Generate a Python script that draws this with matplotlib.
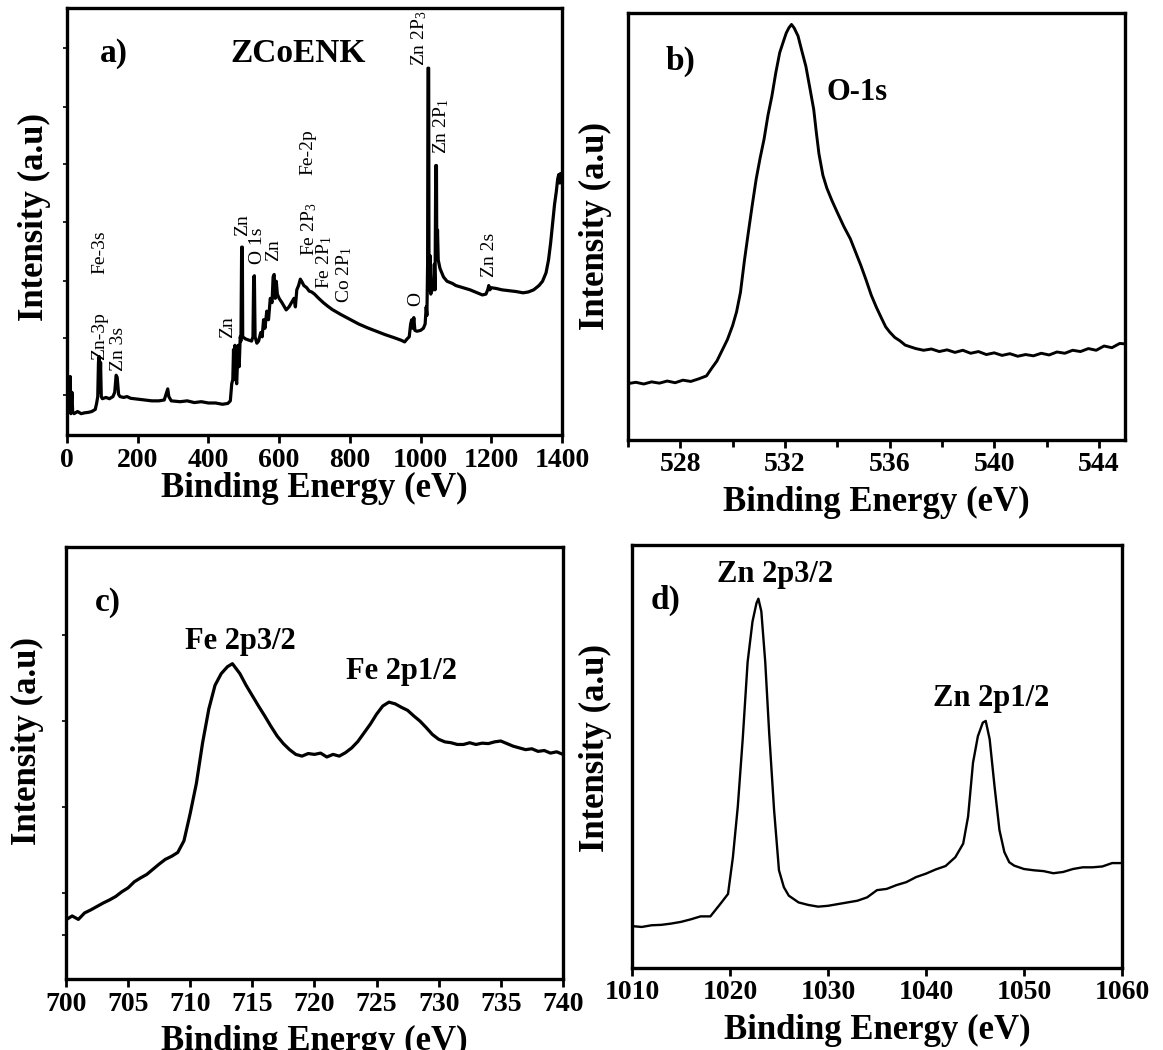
import matplotlib
matplotlib.use("Agg")
import matplotlib.pyplot as plt
from matplotlib.ticker import MultipleLocator, FixedLocator, NullFormatter

plt.rcParams['font.family'] = ['Liberation Serif', 'DejaVu Serif']
plt.rcParams['mathtext.fontset'] = 'custom'
plt.rcParams['mathtext.rm'] = 'Liberation Serif'
plt.rcParams['mathtext.it'] = 'Liberation Serif:italic'
plt.rcParams['mathtext.bf'] = 'Liberation Serif:bold'

# ---------------- data ----------------
# (a) survey spectrum
a_energy = [0, 3, 5, 7, 9, 11, 14, 16, 20, 30, 40, 50, 60, 70, 80, 84, 87, 89, 91, 93, 95, 97,
            100, 110, 120, 130, 135, 139, 142, 146, 150, 160, 170, 180, 200, 220, 240, 260, 275,
            282, 285, 288, 295, 320, 340, 360, 380, 400, 420, 440, 455, 462, 466, 469, 471, 473,
            475, 477, 480, 484, 487, 490, 492, 494, 496, 497, 505, 515, 522, 526, 528, 530, 532,
            537, 542, 548, 552, 556, 560, 565, 570, 575, 580, 583, 586, 589, 592, 595, 600, 608,
            615, 620, 628, 635, 642, 646, 650, 655, 660, 665, 670, 678, 685, 692, 700, 712, 725,
            737, 750, 775, 800, 825, 850, 875, 900, 925, 945, 955, 962, 968, 972, 975, 978, 981,
            984, 990, 1000, 1008, 1013, 1016, 1018, 1020, 1021, 1023, 1024, 1027, 1029, 1032,
            1036, 1039, 1041, 1043, 1045, 1046, 1048, 1050, 1055, 1060, 1065, 1075, 1090, 1100,
            1120, 1140, 1160, 1175, 1185, 1190, 1193, 1196, 1200, 1215, 1230, 1250, 1270, 1290,
            1305, 1320, 1335, 1345, 1355, 1362, 1368, 1374, 1379, 1384, 1388, 1391, 1394, 1397]
a_intensity = [0.05, 0.06, 0.13, 0.06, 0.137, 0.05, 0.10, 0.055, 0.05, 0.055, 0.05, 0.052, 0.053,
               0.055, 0.06, 0.075, 0.09, 0.17, 0.184, 0.10, 0.17, 0.09, 0.085, 0.088, 0.085, 0.09,
               0.10, 0.14, 0.135, 0.095, 0.09, 0.088, 0.09, 0.086, 0.084, 0.082, 0.08, 0.08, 0.082,
               0.10, 0.108, 0.09, 0.08, 0.078, 0.08, 0.076, 0.078, 0.075, 0.075, 0.072, 0.074, 0.08,
               0.12, 0.13, 0.20, 0.13, 0.21, 0.14, 0.12, 0.21, 0.16, 0.23, 0.22, 0.44, 0.44, 0.23,
               0.225, 0.222, 0.22, 0.23, 0.37, 0.373, 0.23, 0.215, 0.22, 0.24, 0.23, 0.27, 0.25,
               0.29, 0.27, 0.32, 0.31, 0.37, 0.376, 0.32, 0.36, 0.33, 0.32, 0.31, 0.30, 0.293, 0.30,
               0.31, 0.32, 0.30, 0.34, 0.35, 0.365, 0.358, 0.35, 0.345, 0.337, 0.335, 0.33, 0.32,
               0.31, 0.302, 0.294, 0.282, 0.271, 0.26, 0.251, 0.243, 0.235, 0.228, 0.222, 0.218,
               0.225, 0.23, 0.26, 0.27, 0.25, 0.275, 0.245, 0.243, 0.245, 0.25, 0.26, 0.30, 0.28,
               0.40, 0.859, 0.859, 0.34, 0.42, 0.33, 0.35, 0.34, 0.40, 0.34, 0.631, 0.631, 0.42,
               0.48, 0.41, 0.39, 0.38, 0.37, 0.36, 0.355, 0.35, 0.345, 0.34, 0.333, 0.328, 0.33,
               0.34, 0.35, 0.34, 0.345, 0.343, 0.34, 0.338, 0.336, 0.333, 0.335, 0.34, 0.35, 0.36,
               0.38, 0.41, 0.45, 0.50, 0.54, 0.57, 0.60, 0.61, 0.59, 0.612]

# (b) O 1s
b_energy = [526.0, 526.3, 526.6, 526.9, 527.2, 527.5, 527.8, 528.1, 528.4, 528.7, 529.0, 529.2,
            529.4, 529.6, 529.8, 530.0, 530.15, 530.3, 530.45, 530.6, 530.75, 530.9, 531.05,
            531.2, 531.35, 531.5, 531.65, 531.8, 531.95, 532.05, 532.15, 532.25, 532.35, 532.5,
            532.65, 532.8, 532.95, 533.1, 533.2, 533.3, 533.45, 533.6, 533.8, 534.0, 534.25,
            534.5, 534.7, 534.9, 535.1, 535.3, 535.5, 535.7, 535.85, 536.0, 536.2, 536.4, 536.6,
            536.8, 537.0, 537.3, 537.6, 537.9, 538.2, 538.5, 538.8, 539.1, 539.4, 539.7, 540.0,
            540.3, 540.6, 540.9, 541.2, 541.5, 541.8, 542.1, 542.4, 542.7, 543.0, 543.3, 543.6,
            543.9, 544.2, 544.5, 544.8, 545.0]
b_intensity = [0.132, 0.135, 0.131, 0.136, 0.133, 0.138, 0.134, 0.14, 0.137, 0.143, 0.15, 0.168,
               0.185, 0.21, 0.235, 0.268, 0.30, 0.346, 0.42, 0.486, 0.55, 0.611, 0.66, 0.704, 0.76,
               0.805, 0.86, 0.907, 0.935, 0.953, 0.965, 0.973, 0.965, 0.946, 0.91, 0.875, 0.825,
               0.774, 0.72, 0.67, 0.62, 0.59, 0.56, 0.533, 0.50, 0.471, 0.44, 0.409, 0.375, 0.339,
               0.31, 0.284, 0.265, 0.253, 0.24, 0.232, 0.222, 0.218, 0.214, 0.21, 0.213, 0.207,
               0.211, 0.205, 0.21, 0.203, 0.207, 0.20, 0.204, 0.198, 0.202, 0.196, 0.20, 0.197,
               0.203, 0.199, 0.206, 0.203, 0.21, 0.207, 0.214, 0.21, 0.22, 0.216, 0.226, 0.225]

# (c) Fe 2p
c_energy = [700.0, 700.5, 701.0, 701.5, 702.0, 702.5, 703.0, 703.5, 704.0, 704.5, 705.0, 705.5,
            706.0, 706.5, 707.0, 707.5, 708.0, 708.5, 709.0, 709.5, 710.0, 710.5, 711.0, 711.5,
            712.0, 712.5, 713.0, 713.4, 714.0, 714.5, 715.0, 715.5, 716.0, 716.5, 717.0, 717.5,
            718.0, 718.5, 719.0, 719.5, 720.0, 720.5, 721.0, 721.5, 722.0, 722.5, 723.0, 723.5,
            724.0, 724.5, 725.0, 725.5, 726.0, 726.5, 727.0, 727.5, 728.0, 728.5, 729.0, 729.5,
            730.0, 730.5, 731.0, 731.5, 732.0, 732.5, 733.0, 733.5, 734.0, 734.5, 735.0, 735.5,
            736.0, 736.5, 737.0, 737.5, 738.0, 738.5, 739.0, 739.5, 740.0]
c_intensity = [0.137, 0.146, 0.138, 0.153, 0.16, 0.168, 0.176, 0.183, 0.191, 0.202, 0.211, 0.225,
               0.234, 0.242, 0.254, 0.266, 0.277, 0.284, 0.293, 0.32, 0.383, 0.453, 0.547, 0.625,
               0.68, 0.707, 0.723, 0.73, 0.707, 0.68, 0.656, 0.632, 0.609, 0.585, 0.5625, 0.545,
               0.531, 0.52, 0.516, 0.522, 0.52, 0.523, 0.514, 0.52, 0.516, 0.524, 0.535, 0.55, 0.57,
               0.59, 0.613, 0.632, 0.641, 0.637, 0.629, 0.622, 0.609, 0.597, 0.582, 0.566, 0.555,
               0.549, 0.547, 0.543, 0.543, 0.547, 0.543, 0.546, 0.545, 0.549, 0.551, 0.545, 0.539,
               0.535, 0.531, 0.533, 0.527, 0.529, 0.523, 0.526, 0.52]

# (d) Zn 2p
d_energy = [1010, 1011, 1012, 1013, 1014, 1015, 1016, 1017, 1018, 1019, 1019.8, 1020.3, 1020.8,
            1021.3, 1021.8, 1022.3, 1022.7, 1022.9, 1023.2, 1023.6, 1024, 1024.5, 1025, 1025.5,
            1026, 1027, 1028, 1029, 1030, 1031, 1032, 1033, 1034, 1035, 1036, 1037, 1038, 1039,
            1040, 1041, 1042, 1043, 1043.8, 1044.3, 1044.8, 1045.3, 1045.8, 1046.1, 1046.5, 1047,
            1047.5, 1048, 1048.5, 1049, 1050, 1051, 1052, 1053, 1054, 1055, 1056, 1057, 1058,
            1059, 1060]
d_intensity = [0.099, 0.097, 0.101, 0.102, 0.105, 0.109, 0.115, 0.122, 0.122, 0.151, 0.175, 0.262,
               0.382, 0.541, 0.723, 0.819, 0.862, 0.873, 0.843, 0.723, 0.556, 0.374, 0.231, 0.191,
               0.171, 0.155, 0.149, 0.145, 0.147, 0.151, 0.155, 0.159, 0.167, 0.184, 0.187, 0.196,
               0.203, 0.215, 0.223, 0.233, 0.241, 0.262, 0.294, 0.358, 0.485, 0.548, 0.58, 0.584,
               0.541, 0.429, 0.326, 0.274, 0.25, 0.242, 0.234, 0.231, 0.229, 0.224, 0.227, 0.234,
               0.238, 0.238, 0.24, 0.248, 0.248]

a_ticks = [0, 200, 400, 600, 800, 1000, 1200, 1400]
b_ticks = [528, 532, 536, 540, 544]
c_ticks = [700, 705, 710, 715, 720, 725, 730, 735, 740]
d_ticks = [1010, 1020, 1030, 1040, 1050, 1060]

# annotations of survey peaks: (text, x, y-bottom)
a_labels = [("Fe-3s", 94, 0.376), ("Zn-3p", 91, 0.176), ("Zn 3s", 146, 0.149),
            ("Zn", 455, 0.227), ("Zn", 497, 0.467), ("O 1s", 539, 0.40), ("Zn", 585, 0.408),
            ("Fe 2P$_3$", 684, 0.42), ("Fe 2P$_1$", 726, 0.341), ("Co 2P$_1$", 783, 0.31),
            ("Fe-2p", 681, 0.608), ("O", 986, 0.302), ("Zn 2P$_3$", 997, 0.863),
            ("Zn 2P$_1$", 1059, 0.659), ("Zn 2s", 1195, 0.369)]

# ---------------- figure ----------------
fig = plt.figure(figsize=(11.63, 10.5), dpi=100)
ax_a = fig.add_axes([0.0576, 0.5857, 0.4256, 0.4067])
ax_b = fig.add_axes([0.540, 0.5810, 0.4273, 0.4067])
ax_c = fig.add_axes([0.0567, 0.0676, 0.4273, 0.4114])
ax_d = fig.add_axes([0.5434, 0.0781, 0.4213, 0.4029])

LBL = dict(fontsize=25, fontweight='bold')
TICKFS = 20


def style(ax, xlim, xticks, ylabel_xy, xlabel_y):
    ax.set_xlim(*xlim)
    ax.set_ylim(0, 1)
    ax.set_xticks(xticks)
    for s in ax.spines.values():
        s.set_linewidth(2.4)
    ax.tick_params(axis='x', direction='out', length=6, width=2, pad=3, labelsize=TICKFS)
    for t in ax.get_xticklabels():
        t.set_fontweight('bold')
    ax.set_ylabel("Intensity (a.u)", **LBL)
    ax.set_xlabel("Binding Energy (eV)", **LBL)
    ax.yaxis.label.set_va('center')
    ax.yaxis.set_label_coords(*ylabel_xy)
    ax.xaxis.label.set_va('center')
    ax.xaxis.set_label_coords(0.5, xlabel_y)


# (a)
ax_a.plot(a_energy, a_intensity, color='black', lw=2.3)
style(ax_a, (0, 1400), a_ticks, (-0.065, 0.51), -0.125)
ax_a.yaxis.set_major_locator(FixedLocator([0.094, 0.227, 0.361, 0.498, 0.635, 0.769, 0.906]))
ax_a.yaxis.set_major_formatter(NullFormatter())
ax_a.tick_params(axis='y', direction='out', length=3, width=1.2)
ax_a.text(132, 0.894, "a)", fontsize=24, fontweight='bold', ha='center', va='center')
ax_a.text(653, 0.894, "ZCoENK", fontsize=24, fontweight='bold', ha='center', va='center')
for txt, x, y in a_labels:
    ax_a.text(x, y, txt, rotation=90, fontsize=14, ha='center', va='bottom')

# (b)
ax_b.plot(b_energy, b_intensity, color='black', lw=2.1)
style(ax_b, (526, 545), b_ticks, (-0.066, 0.5), -0.146)
ax_b.xaxis.set_minor_locator(MultipleLocator(2))
ax_b.tick_params(axis='x', which='minor', direction='out', length=5, width=2)
ax_b.set_yticks([])
ax_b.text(528, 0.887, "b)", fontsize=24, fontweight='bold', ha='center', va='center')
ax_b.text(534.76, 0.813, "O-1s", fontsize=22, fontweight='bold', ha='center', va='center')

# (c)
ax_c.plot(c_energy, c_intensity, color='black', lw=2.3)
style(ax_c, (700, 740), c_ticks, (-0.078, 0.55), -0.144)
ax_c.yaxis.set_major_locator(FixedLocator([0.102, 0.199, 0.398, 0.598, 0.797]))
ax_c.yaxis.set_major_formatter(NullFormatter())
ax_c.tick_params(axis='y', direction='out', length=3, width=1.2)
ax_c.text(703.4, 0.871, "c)", fontsize=24, fontweight='bold', ha='center', va='center')
ax_c.text(714.0, 0.781, "Fe 2p3/2", fontsize=22, fontweight='bold', ha='center', va='center')
ax_c.text(727.0, 0.711, "Fe 2p1/2", fontsize=22, fontweight='bold', ha='center', va='center')

# (d)
ax_d.plot(d_energy, d_intensity, color='black', lw=1.7)
style(ax_d, (1010, 1060), d_ticks, (-0.075, 0.52), -0.147)
ax_d.set_yticks([])
ax_d.text(1013.4, 0.870, "d)", fontsize=24, fontweight='bold', ha='center', va='center')
ax_d.text(1024.6, 0.93, "Zn 2p3/2", fontsize=22, fontweight='bold', ha='center', va='center')
ax_d.text(1046.7, 0.636, "Zn 2p1/2", fontsize=22, fontweight='bold', ha='center', va='center')

fig.savefig("out.png", dpi=100)
